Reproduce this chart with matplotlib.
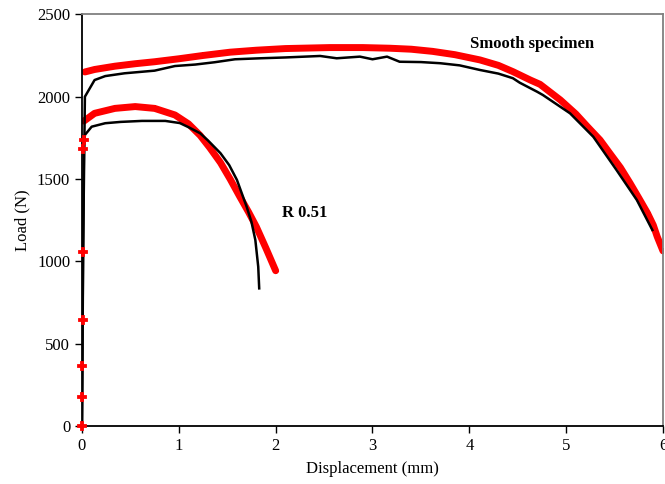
import numpy as np
from matplotlib import pyplot as plt

plt.rcParams['font.family'] = ['Liberation Serif', 'DejaVu Serif']

# smooth specimen - experiment
smooth_exp_x = [0.0, 0.01, 0.03, 0.04, 0.13, 0.24, 0.44, 0.75, 0.96, 1.17, 1.37, 1.58, 1.84,
                2.1, 2.46, 2.63, 2.87, 3.0, 3.15, 3.28, 3.5, 3.7, 3.9, 4.11, 4.3, 4.45, 4.52,
                4.7, 4.76, 5.04, 5.28, 5.52, 5.73, 5.89]
smooth_exp_y = [0, 1000, 2000, 2010, 2101, 2125, 2142, 2158, 2186, 2195, 2209, 2227, 2233,
                2238, 2247, 2233, 2243, 2227, 2243, 2212, 2210, 2203, 2190, 2162, 2140, 2112, 2085,
                2030, 2010, 1899, 1757, 1555, 1373, 1191]

# elastic part of the simulation (shared by both specimens)
elastic_x = [0.0, 0.003, 0.005, 0.008, 0.011, 0.015, 0.017]
elastic_y = [0, 180, 366, 645, 1060, 1683, 1737]

# smooth specimen - simulation, plastic part
smooth_sim_x = [0.03, 0.13, 0.34, 0.55, 0.75, 1.0, 1.25, 1.53, 1.8, 2.1, 2.56, 2.9, 3.18,
                3.4, 3.62, 3.85, 4.11, 4.3, 4.45, 4.63, 4.73, 4.94, 5.1, 5.22, 5.35, 5.45,
                5.56, 5.66, 5.75, 5.84, 5.9, 5.94, 6.0]
smooth_sim_y = [2150, 2165, 2185, 2200, 2212, 2230, 2250, 2270, 2282, 2292, 2298, 2298, 2294,
                2288, 2275, 2255, 2223, 2190, 2152, 2101, 2075, 1980, 1895, 1818, 1737, 1657,
                1570, 1475, 1385, 1293, 1220, 1151, 1064]

# notched R 0.51 - experiment
notch_exp_x = [0.0, 0.01, 0.02, 0.03, 0.10, 0.24, 0.4, 0.62, 0.86, 1.01, 1.1, 1.22, 1.3,
               1.43, 1.52, 1.60, 1.70, 1.75, 1.79, 1.82, 1.83]
notch_exp_y = [0, 900, 1700, 1768, 1818, 1839, 1847, 1853, 1853, 1840, 1815, 1778, 1735,
               1657, 1585, 1495, 1333, 1240, 1131, 968, 837]

# notched R 0.51 - simulation, plastic part
notch_sim_x = [0.02, 0.13, 0.34, 0.55, 0.75, 0.96, 1.1, 1.22, 1.32, 1.43, 1.53, 1.63,
               1.72, 1.80, 1.9, 2.0]
notch_sim_y = [1852, 1899, 1929, 1940, 1929, 1889, 1835, 1765, 1690, 1600, 1500, 1393,
               1300, 1211, 1080, 944]

fig = plt.figure(figsize=(6.65, 4.84), dpi=100)
ax = fig.add_axes([0.1233, 0.1192, 0.8737, 0.8513])

for sx, sy in [(smooth_sim_x, smooth_sim_y), (notch_sim_x, notch_sim_y)]:
    ax.plot(sx, sy, color="red", lw=5.0, solid_capstyle="round", zorder=2)
    ax.plot(sx, sy, linestyle="none", marker="P", ms=5, color="red", mew=0, zorder=2)

ax.plot(smooth_exp_x, smooth_exp_y, color="black", lw=1.8, zorder=3)
ax.plot(notch_exp_x, notch_exp_y, color="black", lw=1.8, zorder=3)
ax.plot(elastic_x, elastic_y, linestyle="none", marker="P", ms=5.5, color="red",
        mec="red", mew=1.3, zorder=5, clip_on=False)

ax.text(4.65, 2320, "Smooth specimen", fontsize=12, fontweight="bold", ha="center", va="center")
ax.text(2.30, 1294, "R 0.51", fontsize=12, fontweight="bold", ha="center", va="center")

ax.set_xlim(0, 6)
ax.set_ylim(0, 2500)
ax.set_xticks(np.arange(0, 7, 1))
ax.set_yticks(np.arange(0, 2501, 500))
ax.tick_params(direction="out", length=5, width=1, labelsize=12, colors="black")
ax.set_xlabel("Displacement (mm)", fontsize=12, labelpad=5)
ax.set_ylabel("Load (N)", fontsize=12, labelpad=5)

ax.spines["left"].set_linewidth(1.3)
ax.spines["bottom"].set_linewidth(1.3)
for s in ["top", "right"]:
    ax.spines[s].set_color("#808080")
    ax.spines[s].set_linewidth(1.3)

fig.savefig("out.png", dpi=100)
